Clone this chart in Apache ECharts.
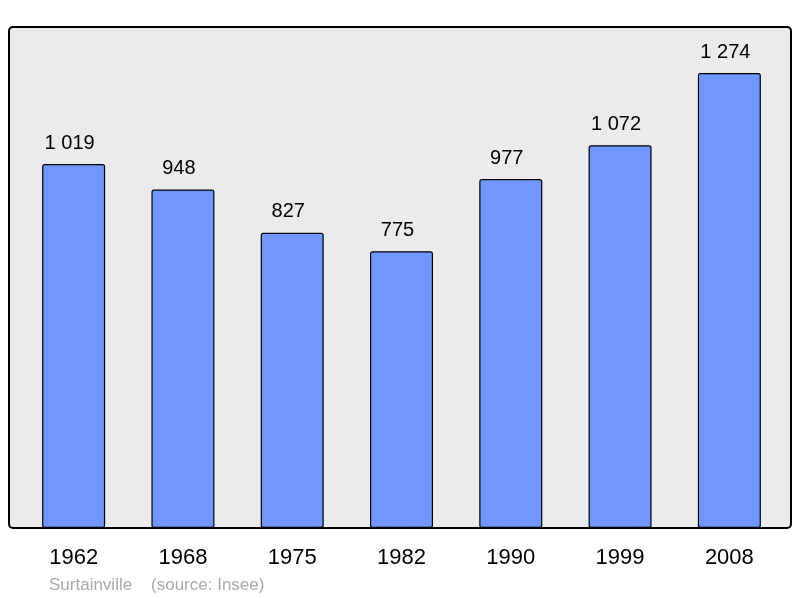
<!DOCTYPE html>
<html>
<head>
<meta charset="utf-8">
<script src="https://cdn.jsdelivr.net/npm/echarts@6/dist/echarts.min.js"></script>
<style>html,body{margin:0;padding:0;background:#fff}#c{width:800px;height:598px}</style>
</head>
<body>
<div id="c"></div>
<script>
var categories = ['1962', '1968', '1975', '1982', '1990', '1999', '2008'];
var population = [1019, 948, 827, 775, 977, 1072, 1274];
var footerText = 'Surtainville    (source: Insee)';

var chart = echarts.init(document.getElementById('c'), null, {renderer: 'canvas'});
function fmt(v) {
  return String(v).replace(/\B(?=(\d{3})+(?!\d))/g, ' ');
}
chart.setOption({
  animation: false,
  backgroundColor: '#ffffff',
  textStyle: {fontFamily: 'Liberation Sans'},
  graphic: [
    {type: 'rect', z: -10, shape: {x: 9, y: 27, width: 782, height: 501, r: 4},
     style: {fill: '#ebebeb', stroke: '#000', lineWidth: 2}},
    {type: 'text', left: 49, top: 577,
     style: {text: footerText, fill: '#aaaaaa', font: '17px "Liberation Sans"'}}
  ],
  grid: {left: 19, right: 16, top: 27, bottom: 70, containLabel: false},
  xAxis: {
    type: 'category', data: categories,
    axisLine: {show: false}, axisTick: {show: false},
    axisLabel: {color: '#000', fontSize: 22, margin: 19, fontFamily: 'Liberation Sans'}
  },
  yAxis: {
    type: 'value', min: 0, max: 1403, show: false, splitLine: {show: false}
  },
  series: [{
    type: 'bar', data: population, barWidth: 63,
    itemStyle: {color: '#7096ff', borderColor: '#000', borderWidth: 1.2, borderRadius: 2},
    label: {show: true, position: 'top', distance: 11, offset: [-4, 0], color: '#000', fontSize: 20,
      fontFamily: 'Liberation Sans', formatter: function (p) { return fmt(p.value); }}
  }]
});
</script>
</body>
</html>
